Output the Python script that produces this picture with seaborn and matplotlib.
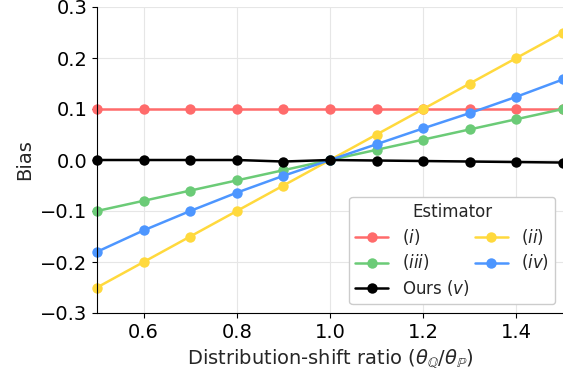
import matplotlib
matplotlib.use("Agg")
import matplotlib.pyplot as plt
import numpy as np
import pandas as pd
import seaborn as sns

# shift ratios and bias of each estimator
ratios = [0.5, 0.6, 0.7, 0.8, 0.9, 1.0, 1.1, 1.2, 1.3, 1.4, 1.5]
bias_i = [0.1, 0.1, 0.1, 0.1, 0.1, 0.1, 0.1, 0.1, 0.1, 0.1, 0.1]
bias_ii = [-0.25, -0.2, -0.15, -0.1, -0.05, 0.0, 0.05, 0.1, 0.15, 0.2, 0.25]
bias_iii = [-0.1, -0.08, -0.06, -0.04, -0.02, 0.0, 0.02, 0.04, 0.06, 0.08, 0.1]
bias_iv = [-0.18, -0.138, -0.1, -0.064, -0.031, 0.0, 0.031, 0.062, 0.092, 0.124, 0.158]
bias_v = [0.0, 0.0, 0.0, 0.0, -0.003, 0.0, -0.001, -0.002, -0.003, -0.004, -0.005]

names = ['$(i)$', '$(ii)$', '$(iii)$', '$(iv)$', 'Ours $(v)$']
colors = ['#FF6B6B', '#FFD93D', '#6BCB77', '#4D96FF', 'black']
series = [bias_i, bias_ii, bias_iii, bias_iv, bias_v]

df = pd.concat([pd.DataFrame({'ratio': ratios, 'bias': vals, 'Estimator': name})
                for name, vals in zip(names, series)], ignore_index=True)

sns.set_style('ticks', {'axes.grid': True, 'grid.color': '#e6e6e6'})
plt.rcParams['font.family'] = ['DejaVu Sans']

fig = plt.figure(figsize=(5.63, 3.75), dpi=100)
ax = fig.add_axes([97/563, 62/375, 466/563, 306/375])
sns.lineplot(data=df, x='ratio', y='bias', hue='Estimator', hue_order=names,
             palette=dict(zip(names, colors)), marker='o', markersize=7.5,
             markeredgewidth=0, linewidth=1.8, ax=ax, clip_on=False)

ax.set_xlim(0.5, 1.5)
ax.set_ylim(-0.3, 0.3)
ax.set_xticks([0.6, 0.8, 1.0, 1.2, 1.4])
ax.set_yticks([-0.3, -0.2, -0.1, 0.0, 0.1, 0.2, 0.3])
ax.tick_params(labelsize=14, colors='black')
ax.set_xlabel(r'Distribution-shift ratio ($\theta_{\mathbb{Q}}/\theta_{\mathbb{P}}$)', fontsize=14)
ax.set_ylabel('Bias', fontsize=14)
sns.despine(ax=ax)
for s in ['left', 'bottom']:
    ax.spines[s].set_color('black')

handles, labels = ax.get_legend_handles_labels()
order = [0, 2, 4, 1, 3]
ax.legend([handles[k] for k in order], [labels[k] for k in order], title='Estimator',
          ncol=2, loc='lower right', bbox_to_anchor=(0.983, 0.029), borderaxespad=0,
          fontsize=12, title_fontsize=12, framealpha=1, columnspacing=0.3,
          handlelength=2.0, labelspacing=0.35, borderpad=0.35)

fig.savefig('out.png', dpi=100)
